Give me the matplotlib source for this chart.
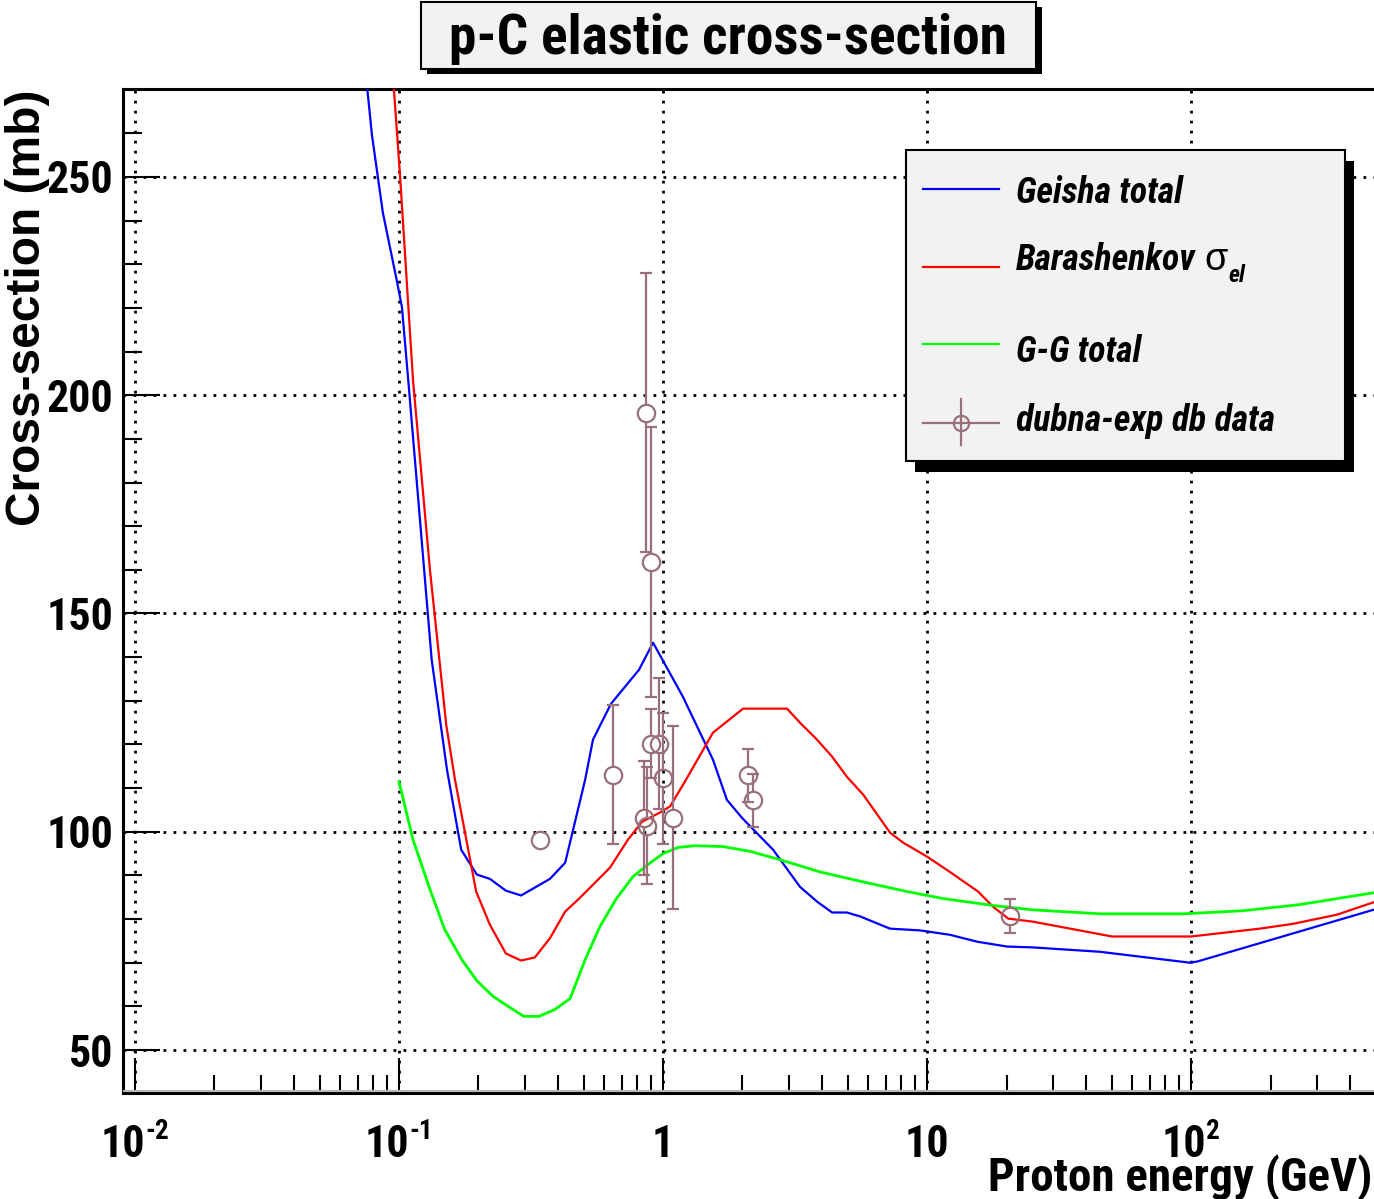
import matplotlib
matplotlib.use("Agg")
import matplotlib.pyplot as plt
from matplotlib.patches import Rectangle
from matplotlib.lines import Line2D
from matplotlib.ticker import FixedLocator, LogLocator, MultipleLocator, NullFormatter
from matplotlib import font_manager as fm
import matplotlib.transforms as mtransforms
import numpy as np

# Geisha total (blue)
geisha_e = [0.0740, 0.0759, 0.079, 0.0869, 0.098, 0.1026, 0.1084, 0.133, 0.152, 0.172,
            0.197, 0.221, 0.254, 0.290, 0.373, 0.426, 0.507, 0.543, 0.635, 0.811,
            0.917, 1.19, 1.546, 1.746, 1.99, 2.61, 3.30, 3.83, 4.37, 4.97,
            5.58, 7.24, 9.4, 12.2, 15.5, 20.1, 25.2, 45.2, 99.0, 106.0, 489.0]
geisha_xs = [281.0, 270.0, 259.6, 241.8, 226.4, 220.2, 203.5, 139.4, 114.2, 95.9,
             90.2, 89.2, 86.5, 85.4, 89.2, 92.9, 111.9, 121.1, 129.3, 137.1,
             143.3, 130.9, 116.5, 107.3, 103.2, 95.9, 87.4, 84.0, 81.5, 81.5,
             80.6, 77.8, 77.4, 76.4, 74.8, 73.7, 73.5, 72.5, 70.0, 70.3, 82.1]

# Barashenkov sigma_el (red)
barash_e = [0.094, 0.0957, 0.101, 0.113, 0.131, 0.151, 0.163, 0.196, 0.221, 0.254,
            0.290, 0.327, 0.373, 0.426, 0.485, 0.552, 0.630, 0.737, 0.833, 0.974,
            1.063, 1.211, 1.546, 2.01, 2.95, 3.30, 3.83, 4.37, 4.97, 5.73,
            7.24, 8.12, 10.0, 12.2, 15.6, 17.8, 20.3, 25.2, 50.2, 100.0,
            182.0, 243.0, 357.0, 489.0]
barash_xs = [280.0, 270.0, 250.0, 203.5, 160.0, 124.5, 111.9, 86.3, 78.7, 72.1,
             70.5, 71.2, 75.6, 81.7, 84.9, 88.3, 91.8, 98.2, 102.3, 104.4,
             105.8, 111.5, 122.7, 128.2, 128.2, 125.0, 121.1, 117.2, 112.6, 108.5,
             99.8, 97.5, 94.3, 90.8, 86.3, 82.8, 80.1, 79.4, 76.0, 76.0,
             77.8, 78.9, 81.0, 83.8]

# G-G total (green)
gg_e = [0.1, 0.113, 0.131, 0.149, 0.173, 0.197, 0.227, 0.259, 0.297, 0.339,
        0.390, 0.445, 0.507, 0.577, 0.663, 0.769, 0.877, 1.0, 1.14, 1.32,
        1.69, 2.14, 2.77, 3.93, 5.93, 8.40, 11.5, 17.8, 25.2, 45.2,
        93.3, 157.0, 257.0, 489.0]
gg_xs = [111.5, 98.2, 86.8, 77.6, 70.7, 65.9, 62.3, 60.0, 57.7, 57.7,
         59.3, 61.8, 70.7, 78.3, 84.5, 89.7, 92.5, 95.0, 96.4, 96.8,
         96.6, 95.5, 93.6, 90.8, 88.3, 86.3, 84.7, 83.1, 82.1, 81.2,
         81.2, 81.9, 83.3, 86.0]

# dubna-exp db data
data_e = [0.342, 0.647, 0.863, 0.902, 0.902, 0.966, 1.0, 1.09, 0.847, 0.870, 2.10, 2.19, 20.6]
data_xs = [98.0, 113.1, 196.0, 161.8, 120.2, 120.2, 112.2, 103.2, 103.2, 101.4, 112.9, 107.2, 80.8]
data_err = [0.0, 16.0, 32.0, 31.0, 8.0, 15.0, 15.0, 21.0, 13.0, 13.4, 6.0, 6.0, 3.9]

# x tick labels: (value, base, exponent)
xticks = [(0.01, "10", "-2"), (0.1, "10", "-1"), (1, "1", ""), (10, "10", ""), (100, "10", "2")]

W, H = 1374, 1199
DATA_COL = "#99707a"


def pick(fams):
    for f in fams:
        try:
            fm.findfont(fm.FontProperties(family=f, weight="bold"), fallback_to_default=False)
            return f
        except ValueError:
            pass
    return "DejaVu Sans"


NARROW = pick(["Liberation Sans Narrow", "Roboto Condensed", "Liberation Sans"])
WIDE = pick(["Liberation Sans", "DejaVu Sans"])


def fx(px):
    return px / W


def fy(py):
    return 1 - py / H


fig = plt.figure(figsize=(W / 100, H / 100), dpi=100)
renderer = fig.canvas.get_renderer()


def fit(t, target_px):
    # scale a text so that its width matches the reference
    w = t.get_window_extent(renderer).width
    t.set_fontsize(t.get_fontsize() * target_px / w)
    return t


def size_for(s, target_px, **kw):
    t = fig.text(0, 0, s, fontsize=30, **kw)
    w = t.get_window_extent(renderer).width
    t.remove()
    return 30 * target_px / w


ax = fig.add_axes([fx(123), fy(1093), fx(1374) - fx(123), fy(89) - fy(1093)])
ax.set_xscale("log")
ax.set_xlim(0.00901, 493)
ax.set_ylim(40.15, 270.15)

# grid
ax.grid(True, which="major", color="k", linestyle=(0, (1.0, 2.6)), linewidth=2.0)
ax.set_axisbelow(True)

# curves
ax.plot(geisha_e, geisha_xs, color=(0, 0, 1), lw=1.6, zorder=3)
ax.plot(barash_e, barash_xs, color=(1, 0, 0), lw=1.6, zorder=3)
ax.plot(gg_e, gg_xs, color=(0, 1, 0), lw=2.0, zorder=3)

# data points: bars stop at the hollow marker edge
e = np.array(data_e)
s = np.array(data_xs)
err = np.array(data_err)
m = err > 0
gap = 2.0
ax.vlines(e[m], s[m] + gap, s[m] + err[m], color=DATA_COL, lw=1.6, zorder=4)
ax.vlines(e[m], s[m] - err[m], s[m] - gap, color=DATA_COL, lw=1.6, zorder=4)
ax.plot(e[m], s[m] + err[m], "_", ms=9, mew=1.6, color=DATA_COL, zorder=4)
ax.plot(e[m], s[m] - err[m], "_", ms=9, mew=1.6, color=DATA_COL, zorder=4)
ax.plot(e, s, "o", ms=12.5, mfc="none", mec=DATA_COL, mew=1.6, zorder=5)

# axes styling
for side in ["left", "bottom", "top"]:
    ax.spines[side].set_linewidth(2.2)
ax.spines["right"].set_visible(False)

ax.xaxis.set_major_locator(FixedLocator([v for v, _, _ in xticks]))
ax.xaxis.set_minor_locator(LogLocator(base=10, subs=np.arange(2, 10), numticks=30))
ax.xaxis.set_minor_formatter(NullFormatter())
ax.yaxis.set_major_locator(MultipleLocator(50))
ax.yaxis.set_minor_locator(MultipleLocator(10))

ax.tick_params(axis="x", which="major", direction="in", length=25, width=1.5,
               top=False, labelbottom=False)
ax.tick_params(axis="x", which="minor", direction="in", length=13, width=1.5, top=False)
ax.tick_params(axis="y", which="major", direction="in", length=26.5, width=1.5,
               right=False, pad=7)
ax.tick_params(axis="y", which="minor", direction="in", length=13.5, width=1.5, right=False)

num_size = size_for("250", 62, family=NARROW, fontweight="bold") * 1.08
for lab in ax.get_yticklabels():
    lab.set_fontfamily(NARROW)
    lab.set_fontweight("bold")
    lab.set_fontsize(num_size)

# x tick labels on a common baseline, exponent as raised smaller text
trans = mtransforms.blended_transform_factory(ax.transData, ax.transAxes)
for v, base, expo in xticks:
    tb = ax.text(v, -0.0637, base, transform=trans, ha="left", va="baseline",
                 fontsize=num_size, fontweight="bold", family=NARROW)
    wb = tb.get_window_extent(renderer).width
    we = 0.0
    te = None
    if expo:
        te = ax.text(v, -0.0637, expo, ha="left", va="baseline",
                     fontsize=num_size * 0.62, fontweight="bold", family=NARROW)
        we = te.get_window_extent(renderer).width
    x0 = -(wb + we) / 2
    tb.set_transform(mtransforms.offset_copy(trans, fig, x=x0, y=0, units="dots"))
    if te is not None:
        te.set_transform(mtransforms.offset_copy(trans, fig, x=x0 + wb, y=18, units="dots"))

# thin bevel above the bottom axis
fig.add_artist(Line2D([fx(124), fx(1374)], [fy(1090.5), fy(1090.5)], color="#b8b8b8",
                      lw=1.5, transform=fig.transFigure))

# axis titles
fit(fig.text(fx(1372), fy(1191), "Proton energy (GeV)", ha="right", va="baseline",
             fontsize=34, fontweight="bold", family=NARROW), 385)
fig.text(fx(40), fy(90), "Cross-section (mb)", rotation=90, rotation_mode="anchor",
         ha="right", va="baseline", fontsize=34.5, fontweight="bold", family=WIDE)

# title box with shadow
fig.add_artist(Rectangle((fx(427), fy(74)), fx(615), fy(0) - fy(67), transform=fig.transFigure,
                         facecolor="black", edgecolor="black", lw=0))
fig.add_artist(Rectangle((fx(421), fy(69)), fx(615), fy(0) - fy(67), transform=fig.transFigure,
                         facecolor="#f2f2f2", edgecolor="black", lw=1.5))
fit(fig.text(fx(728), fy(54), "p-C elastic cross-section", ha="center", va="baseline",
             fontsize=41, fontweight="bold", family=NARROW), 558)

# legend with shadow
fig.add_artist(Rectangle((fx(915), fy(472)), fx(439), fy(0) - fy(311), transform=fig.transFigure,
                         facecolor="black", edgecolor="black", lw=0, zorder=10))
fig.add_artist(Rectangle((fx(906), fy(461)), fx(439), fy(0) - fy(311), transform=fig.transFigure,
                         facecolor="#f2f2f2", edgecolor="black", lw=1.5, zorder=11))

leg_size = size_for("dubna-exp db data", 259, family=NARROW, fontweight="bold",
                    fontstyle="italic")
leg_rows = [(189, 203, "Geisha total", (0, 0, 1)),
            (267, 270, "Barashenkov", (1, 0, 0)),
            (344, 362, "G-G total", (0, 1, 0)),
            (423, 431, "dubna-exp db data", DATA_COL)]
leg_texts = []
for yline, ybase, label, col in leg_rows:
    fig.add_artist(Line2D([fx(923), fx(999)], [fy(yline), fy(yline)], color=col, lw=1.6,
                          transform=fig.transFigure, zorder=12))
    leg_texts.append(fig.text(fx(1016), fy(ybase), label, ha="left", va="baseline",
                              fontsize=leg_size, fontweight="bold", fontstyle="italic",
                              family=NARROW, zorder=12))
bx = leg_texts[1].get_window_extent(renderer).x1 + 8
sig = fig.text(bx / W, fy(270), "\u03c3", ha="left", va="baseline", fontsize=leg_size * 1.05,
               family=WIDE, zorder=12)
sx = sig.get_window_extent(renderer).x1 + 1
fig.text(sx / W, fy(282), "el", ha="left", va="baseline", fontsize=leg_size * 0.66,
         fontweight="bold", fontstyle="italic", family=NARROW, zorder=12)
fig.add_artist(Line2D([fx(961), fx(961)], [fy(399), fy(445)], color=DATA_COL, lw=1.6,
                      transform=fig.transFigure, zorder=12))
fig.add_artist(Line2D([fx(961)], [fy(423)], marker="o", ms=11, mfc="none", mec=DATA_COL,
                      mew=1.6, transform=fig.transFigure, zorder=13))

fig.savefig("out.png", dpi=100)
